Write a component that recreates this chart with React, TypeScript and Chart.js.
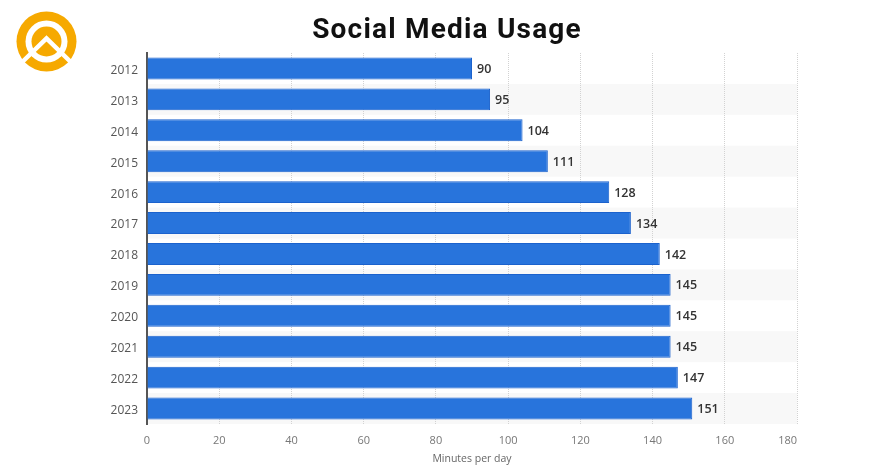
import React, { useEffect, useRef } from "react";
import { Chart, registerables } from "chart.js";

Chart.register(...registerables);

const years = ["2012", "2013", "2014", "2015", "2016", "2017", "2018", "2019", "2020", "2021", "2022", "2023"];
const minutesPerDay = [90, 95, 104, 111, 128, 134, 142, 145, 145, 145, 147, 151];
const chartTitle = "Social Media Usage";
const xAxisTitle = "Minutes per day";
const xMin = 0;
const xMax = 180;
const xStep = 20;

const W = 893;
const H = 470;
const TICK_PAD = 10;

const decorPlugin = {
  id: "decor",
  beforeDraw(chart: any) {
    const { ctx, chartArea } = chart;
    ctx.save();
    ctx.fillStyle = "#ffffff";
    ctx.fillRect(0, 0, chart.width, chart.height);
    const y = chart.scales.y;
    const n = years.length;
    const rowH = (chartArea.bottom - chartArea.top) / n;
    ctx.fillStyle = "#f8f8f8";
    for (let i = 0; i < n; i++) {
      if (i % 2 === 1) {
        const cy = y.getPixelForValue(i);
        ctx.fillRect(chartArea.left, cy - rowH / 2, chartArea.right - chartArea.left, rowH);
      }
    }
    ctx.restore();
  },
  afterDraw(chart: any) {
    const { ctx, chartArea } = chart;
    ctx.save();
    // title
    ctx.fillStyle = "#111111";
    ctx.font = "bold 28px Roboto";
    ctx.textAlign = "center";
    ctx.textBaseline = "alphabetic";
    try {
      (ctx as any).letterSpacing = "1.2px";
    } catch (e) {}
    ctx.fillText(chartTitle, 447, 38);
    try {
      (ctx as any).letterSpacing = "0px";
    } catch (e) {}
    // last x tick label, justified inside the plot like the original
    const xs = chart.scales.x;
    const items = xs.getLabelItems ? xs.getLabelItems() : [];
    const first = items.length ? items[0] : null;
    ctx.fillStyle = "#777777";
    ctx.font = "11px 'Open Sans'";
    ctx.textAlign = "right";
    if (first && first.options && first.options.translation) {
      ctx.textBaseline = first.options.textBaseline || "middle";
      ctx.fillText(String(xMax), xs.getPixelForValue(xMax), first.options.translation[1] + (first.textOffset || 0));
    } else {
      ctx.textBaseline = "middle";
      ctx.fillText(String(xMax), xs.getPixelForValue(xMax), 440);
    }
    // axis title
    ctx.fillStyle = "#666666";
    ctx.font = "10.5px 'Open Sans'";
    ctx.textAlign = "center";
    ctx.textBaseline = "middle";
    ctx.fillText(xAxisTitle, (chartArea.left + chartArea.right) / 2, 459);
    // logo
    const cx = 46.5;
    const cy = 41.5;
    const orange = "#f6a900";
    ctx.fillStyle = orange;
    ctx.beginPath();
    ctx.arc(cx, cy, 30, 0, Math.PI * 2);
    ctx.fill();
    ctx.fillStyle = "#ffffff";
    ctx.beginPath();
    ctx.arc(cx, cy, 21, 0, Math.PI * 2);
    ctx.fill();
    ctx.fillStyle = orange;
    ctx.beginPath();
    ctx.arc(cx, cy, 15, 0, Math.PI * 2);
    ctx.fill();
    ctx.strokeStyle = "#ffffff";
    ctx.lineWidth = 4.5;
    ctx.lineCap = "butt";
    ctx.beginPath();
    ctx.moveTo(cx - 34, cy + 30);
    ctx.lineTo(cx, cy - 3);
    ctx.lineTo(cx + 34, cy + 30);
    ctx.stroke();
    ctx.restore();
  },
  afterDatasetsDraw(chart: any) {
    const { ctx } = chart;
    const meta = chart.getDatasetMeta(0);
    ctx.save();
    ctx.fillStyle = "#333333";
    ctx.font = "600 12.5px 'Open Sans'";
    ctx.textAlign = "left";
    ctx.textBaseline = "middle";
    meta.data.forEach((bar: any, i: number) => {
      ctx.fillText(String(minutesPerDay[i]), bar.x + 5, bar.y + 1);
    });
    ctx.restore();
  },
};

export default function App() {
  const ref = useRef<HTMLCanvasElement | null>(null);
  useEffect(() => {
    if (!ref.current) return;
    const chart = new Chart(ref.current, {
      type: "bar",
      data: {
        labels: years,
        datasets: [
          {
            data: minutesPerDay,
            backgroundColor: "#2874dc",
            borderColor: "#1b62cd",
            borderWidth: 1,
            categoryPercentage: 0.71,
            barPercentage: 1,
          },
        ],
      },
      options: {
        indexAxis: "y",
        responsive: false,
        animation: false,
        layout: { padding: { top: 53, right: W - 797, left: 0, bottom: 0 } },
        plugins: {
          legend: { display: false },
          tooltip: { enabled: false },
          title: { display: false },
        },
        scales: {
          x: {
            min: xMin,
            max: xMax,
            ticks: {
              stepSize: xStep,
              padding: TICK_PAD,
              color: "#777777",
              font: { family: "'Open Sans'", size: 11 },
              callback: (v: any) => (v === xMax ? "" : String(v)),
            },
            grid: {
              drawTicks: false,
              color: (c: any) => (c.index === 0 ? "rgba(0,0,0,0)" : "#d2d2d2"),
              lineWidth: 1,
            },
            border: { display: false, dash: [1, 1] },
            afterFit: (s: any) => {
              s.height = 46;
            },
          },
          y: {
            grid: { display: false, drawTicks: false },
            border: { display: true, color: "#555555", width: 2 },
            ticks: {
              padding: 9,
              labelOffset: 2,
              color: "#555555",
              font: { family: "'Open Sans'", size: 12 },
            },
            afterFit: (s: any) => {
              s.width = 147;
            },
          },
        },
      },
      plugins: [decorPlugin],
    } as any);
    return () => chart.destroy();
  }, []);
  return (
    <div style={{ position: "fixed", left: 0, top: 0, width: W, height: H, background: "#fff" }}>
      <canvas ref={ref} width={W} height={H} style={{ display: "block" }} />
    </div>
  );
}
